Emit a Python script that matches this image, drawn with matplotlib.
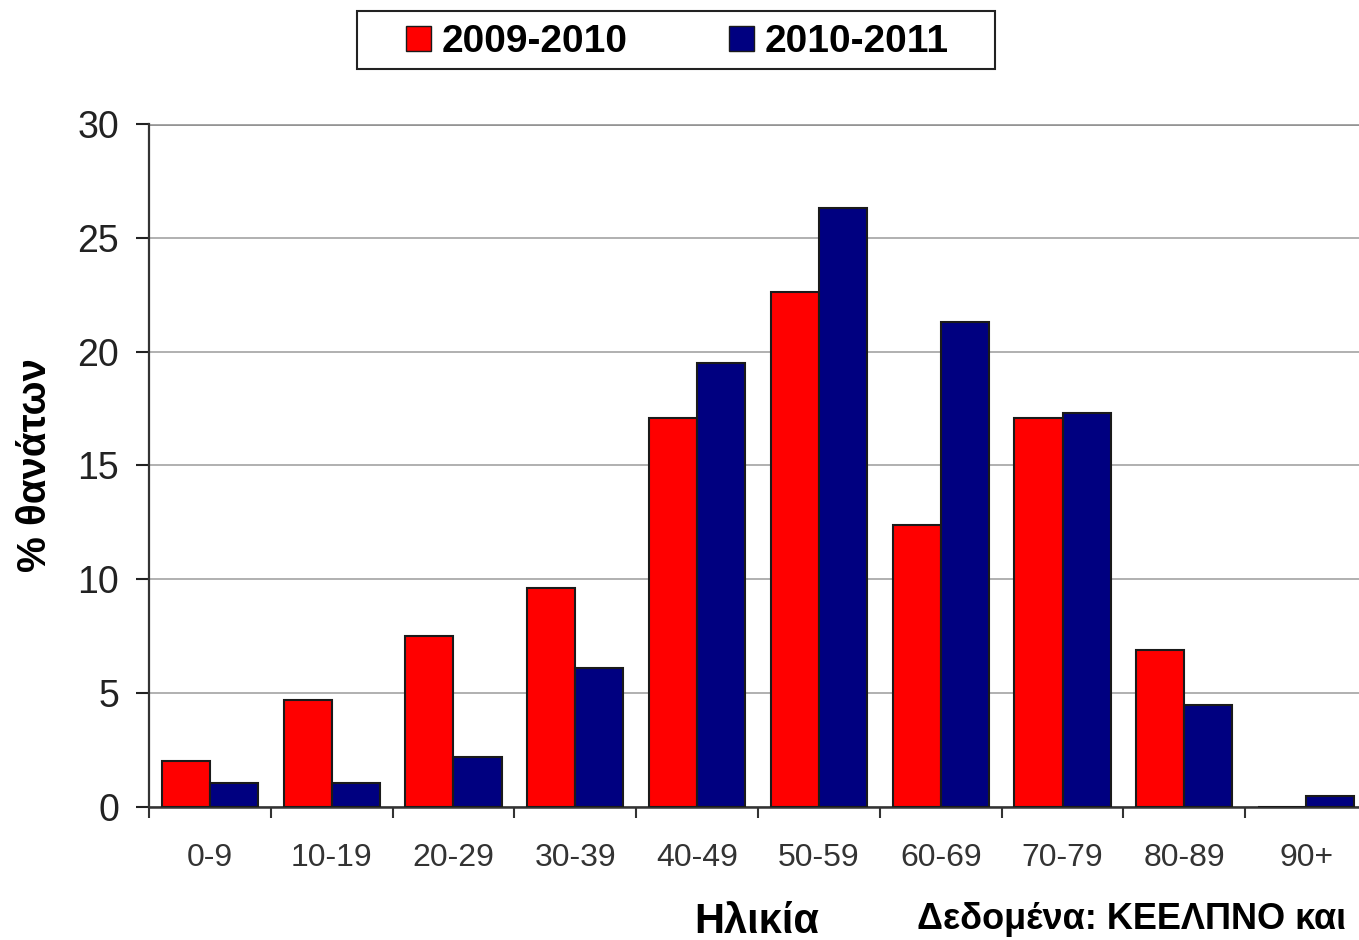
import matplotlib
matplotlib.use("Agg")
import matplotlib.pyplot as plt
import numpy as np
from matplotlib.patches import Patch, Rectangle

# ---------- Data ----------
ages = ["0-9", "10-19", "20-29", "30-39", "40-49", "50-59", "60-69", "70-79", "80-89", "90+"]
deaths_2009_2010 = [2.0, 4.7, 7.5, 9.6, 17.1, 22.6, 12.4, 17.1, 6.9, 0.0]
deaths_2010_2011 = [1.05, 1.05, 2.2, 6.1, 19.5, 26.3, 21.3, 17.3, 4.5, 0.5]

plt.rcParams['font.family'] = ['Liberation Sans', 'DejaVu Sans']

fig = plt.figure(figsize=(13.59, 9.40), dpi=100)
ax = fig.add_axes([0.1096, 0.1415, 0.8963, 0.7266])

x = np.arange(len(ages))
w = 0.395
ax.bar(x - w / 2, deaths_2009_2010, w, color="#FF0000", edgecolor="#1a1a1a", linewidth=1.5, zorder=3)
ax.bar(x + w / 2, deaths_2010_2011, w, color="#000080", edgecolor="#1a1a1a", linewidth=1.5, zorder=3)

ax.set_xlim(-0.5, len(ages) - 0.5)
ax.set_ylim(0, 30)
ax.set_yticks(range(0, 31, 5))
ax.tick_params(axis='y', labelsize=27, length=9.5, width=1.5, direction='out', pad=12, colors='#222222')
ax.set_xticks(x)
ax.set_xticklabels(ages, fontsize=23, color='#333333')
ax.set_xticks(np.arange(-0.5, len(ages)), minor=True)
ax.tick_params(axis='x', which='major', length=0, pad=26)
ax.tick_params(axis='x', which='minor', length=8, width=1.5, direction='out', color='#333333')

ax.yaxis.grid(True, color='#aaaaaa', linewidth=1.3, zorder=0)
for s in ['top', 'right']:
    ax.spines[s].set_visible(False)
ax.spines['left'].set_color('#333333')
ax.spines['left'].set_linewidth(1.6)
ax.spines['bottom'].set_color('#333333')
ax.spines['bottom'].set_linewidth(1.8)
ax.axhline(30, color='#888888', linewidth=2, zorder=1)

ax.set_ylabel("% θανάτων", fontsize=29, fontweight='bold', labelpad=17)

# legend (frame drawn separately to get the wide box)
handles = [Patch(facecolor="#FF0000", edgecolor="#1a1a1a"),
           Patch(facecolor="#000080", edgecolor="#1a1a1a")]
leg = fig.legend(handles, ["2009-2010", "2010-2011"], loc='center',
                 bbox_to_anchor=(0.4985, 0.955), ncol=2, frameon=False,
                 prop={'size': 28, 'weight': 'bold'}, handlelength=0.64, handleheight=0.64,
                 handletextpad=0.28, columnspacing=2.6, borderpad=0.2, borderaxespad=0)
fig.patches.append(Rectangle((357 / 1359, 1 - 69 / 940), 638 / 1359, 58 / 940,
                             transform=fig.transFigure, fill=False,
                             edgecolor='#222222', linewidth=1.5))

fig.text(0.557, 0.007, "Ηλικία", fontsize=30, fontweight='bold', ha='center', va='baseline')
fig.text(0.675, 0.012, "Δεδομένα: ΚΕΕΛΠΝΟ και", fontsize=26, fontweight='bold', ha='left', va='baseline')

fig.savefig("out.png", dpi=100)
